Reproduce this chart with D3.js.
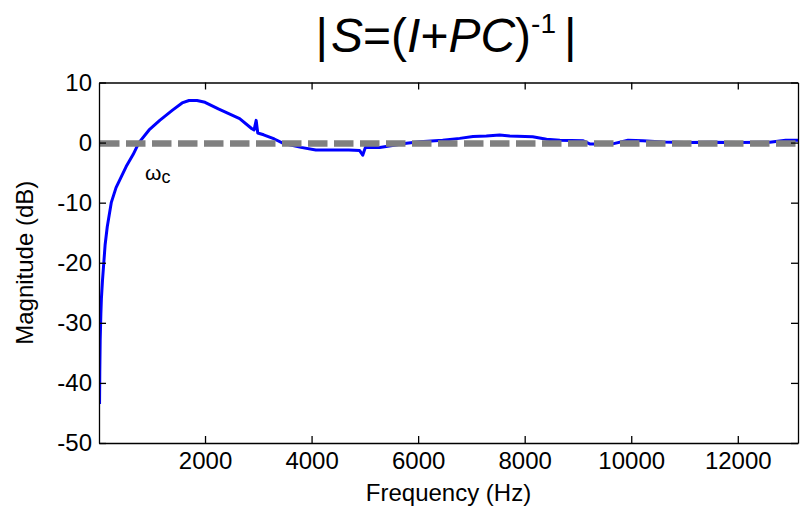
<!DOCTYPE html>
<html>
<head>
<meta charset="utf-8">
<title>|S=(I+PC)^-1|</title>
<script src="https://cdn.jsdelivr.net/npm/d3@7"></script>
<style>
  body { margin: 0; background: #fff; }
  svg { display: block; font-family: "Liberation Sans", Arial, Helvetica, sans-serif; }
  .axis path, .axis line { stroke: #000; stroke-width: 1.3; }
  .axis text { font-size: 24px; fill: #000; }
</style>
</head>
<body>
<svg id="chart" width="800" height="507"></svg>
<script>
// Hz and dB
const freqHz = [20, 25, 32, 45, 55, 75, 100, 125, 165, 240, 330, 520, 650, 760, 950, 1150, 1390, 1570, 1700, 1850,
  2000, 2250, 2650, 2880, 2920, 2960, 2990, 3100, 3300, 3460, 3800, 4080, 4700, 4900, 4960, 5010, 5280, 5520, 5780,
  6030, 6460, 6780, 7030, 7280, 7530, 7720, 8150, 8410, 8660, 9100, 9230, 9630, 9940, 10220, 10590, 11000, 11500,
  12000, 12600, 12900, 13130];
const magDb = [-43.5, -38, -33, -28.5, -26, -23, -20, -17, -14, -10, -7.5, -4, -2, 0, 2.1, 3.7, 5.4, 6.6, 7.0, 7.0,
  6.7, 5.6, 4.0, 2.3, 2.1, 3.7, 1.6, 1.3, 0.6, -0.1, -0.8, -1.25, -1.25, -1.3, -2.1, -0.8, -0.8, -0.5, -0.1,
  0.15, 0.4, 0.7, 1.0, 1.1, 1.25, 1.1, 0.97, 0.55, 0.4, 0.3, -0.25, -0.25, 0.4, 0.3, 0.1, 0.0, 0.05,
  0.0, 0.05, 0.4, 0.4];
const xTicks = [2000, 4000, 6000, 8000, 10000, 12000];
const yTicks = [10, 0, -10, -20, -30, -40, -50];
const xDomain = [10, 13130];
const yDomain = [-50, 10];

const svg = d3.select("#chart");
const pL = 99, pR = 798, pT = 82.5, pB = 443;

const x = d3.scaleLinear().domain(xDomain).range([pL, pR]);
const y = d3.scaleLinear().domain(yDomain).range([pB, pT]);

svg.append("clipPath").attr("id", "clip")
  .append("rect").attr("x", pL).attr("y", pT).attr("width", pR - pL).attr("height", pB - pT);

const plot = svg.append("g").attr("clip-path", "url(#clip)");

const data = freqHz.map((f, i) => [f, magDb[i]]);
plot.append("path")
  .datum(data)
  .attr("fill", "none")
  .attr("stroke", "#0000ff")
  .attr("stroke-width", 3)
  .attr("stroke-linejoin", "round")
  .attr("d", d3.line().x(d => x(d[0])).y(d => y(d[1])));

// 0 dB reference, drawn over the curve
plot.append("line")
  .attr("x1", pL + 1).attr("x2", pR)
  .attr("y1", y(0) + 1).attr("y2", y(0) + 1)
  .attr("stroke", "#808080")
  .attr("stroke-width", 6.5)
  .attr("stroke-dasharray", "19.5,6.5");

// axes with inward ticks
svg.append("g").attr("class", "axis")
  .attr("transform", `translate(0,${pB})`)
  .call(d3.axisBottom(x).tickValues(xTicks).tickSizeInner(-7).tickSizeOuter(0).tickPadding(9).tickFormat(d3.format("d")));
svg.append("g").attr("class", "axis")
  .attr("transform", `translate(0,${pT})`)
  .call(d3.axisTop(x).tickValues(xTicks).tickSizeInner(-7).tickSizeOuter(0).tickFormat(""));
svg.append("g").attr("class", "axis")
  .attr("transform", `translate(${pL},0)`)
  .call(d3.axisLeft(y).tickValues(yTicks).tickSizeInner(-7).tickSizeOuter(0).tickPadding(7).tickFormat(d3.format("d")));
svg.append("g").attr("class", "axis")
  .attr("transform", `translate(${pR},0)`)
  .call(d3.axisRight(y).tickValues(yTicks).tickSizeInner(-7).tickSizeOuter(0).tickFormat(""));

svg.selectAll(".axis .tick text").text(function () { return this.textContent.replace("−", "-"); });

// labels
svg.append("text")
  .attr("x", (pL + pR) / 2).attr("y", 501)
  .attr("text-anchor", "middle").attr("font-size", 24)
  .text("Frequency (Hz)");

svg.append("text")
  .attr("transform", `translate(33,${(pT + pB) / 2}) rotate(-90)`)
  .attr("text-anchor", "middle").attr("font-size", 24)
  .text("Magnitude (dB)");

const title = svg.append("text")
  .attr("x", 446).attr("y", 52)
  .attr("text-anchor", "middle").attr("font-size", 48);
title.append("tspan").text("|");
title.append("tspan").attr("dx", 3).attr("font-style", "italic").text("S");
title.append("tspan").text("=(");
title.append("tspan").attr("font-style", "italic").text("I");
title.append("tspan").text("+");
title.append("tspan").attr("font-style", "italic").text("PC");
title.append("tspan").text(")");
title.append("tspan").attr("font-size", 28).attr("dy", -19).text("-1");
title.append("tspan").attr("dx", 8).attr("dy", 19).text("|");

const wc = svg.append("text").attr("x", 145).attr("y", 180).attr("font-size", 21);
wc.append("tspan").text("ω");
wc.append("tspan").attr("font-size", 18).attr("dy", 3).text("c");
</script>
</body>
</html>
